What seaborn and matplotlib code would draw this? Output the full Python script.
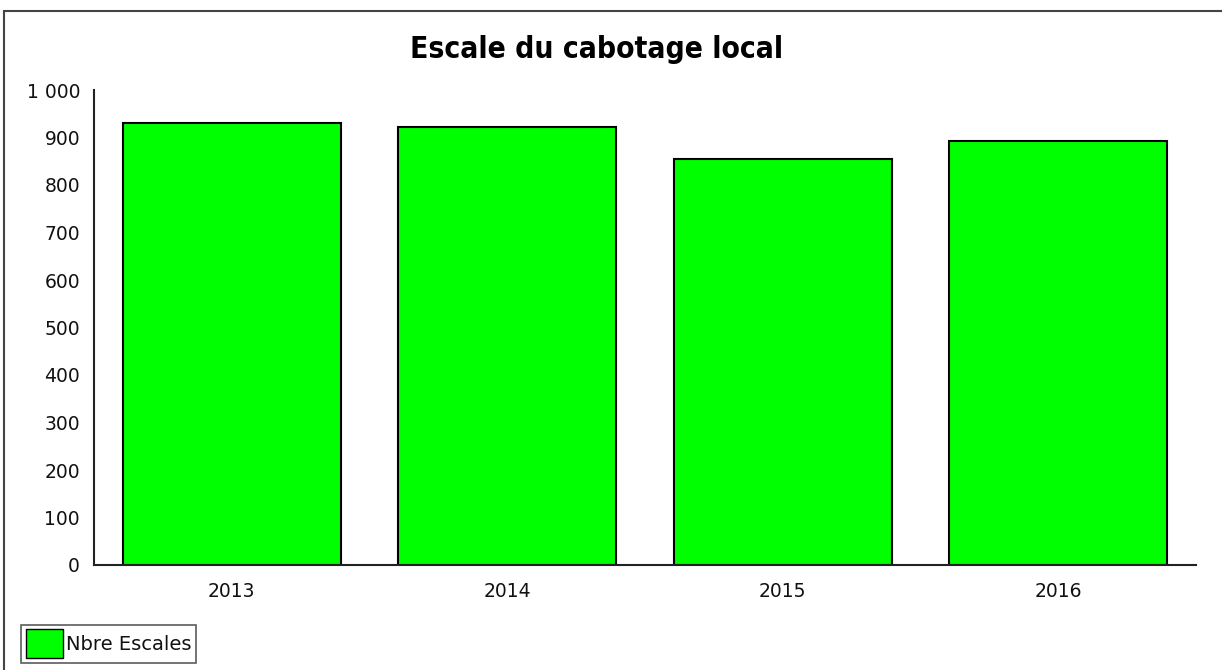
import numpy as np
import matplotlib as mpl
from matplotlib import pyplot as plt
from matplotlib.patches import Rectangle, Patch
import seaborn as sns
import pandas as pd

sns.set_style("white")
plt.rcParams['font.family'] = ['DejaVu Sans']

years = ['2013', '2014', '2015', '2016']
escales = [931, 922, 854, 893]
series_name = 'Nbre Escales'

df = pd.DataFrame({'annee': years, 'escales': escales})

fig = plt.figure(figsize=(12.22, 6.70), dpi=100)
ax = fig.add_axes([94/1222, 1 - 565/670, (1196 - 94)/1222, (565 - 90)/670])

sns.barplot(data=df, x='annee', y='escales', color='#00ff00', saturation=1,
            edgecolor='black', linewidth=1.5, width=0.79, ax=ax)

ax.set_xlim(-0.5, 3.5)
ax.set_ylim(0, 1000)
ax.set_yticks(np.arange(0, 1001, 100))
ax.yaxis.set_major_formatter(mpl.ticker.FuncFormatter(
    lambda v, p: f"{int(v):,}".replace(',', ' ')))
ax.tick_params(axis='both', length=0, labelsize=13.5, colors='#111111')
ax.tick_params(axis='y', pad=10)
ax.tick_params(axis='x', pad=12)
ax.set_xlabel('')
ax.set_ylabel('')
for s in ['top', 'right']:
    ax.spines[s].set_visible(False)
for s in ['left', 'bottom']:
    ax.spines[s].set_color('#222222')
    ax.spines[s].set_linewidth(1.5)

fig.text(597/1222, 1 - 50/670, 'Escale du cabotage local', ha='center', va='center',
         fontsize=21.5, fontweight='bold', fontstretch='condensed', color='black')

# outer frame
fig.patches.append(Rectangle((4/1222, -0.01), 1.1, 1 - 11/670 + 0.01,
                             transform=fig.transFigure, fill=False,
                             edgecolor='#444444', linewidth=1.5))

leg = fig.legend(handles=[Patch(facecolor='#00ff00', edgecolor='black', label=series_name)],
                 loc='lower left', bbox_to_anchor=(21/1222, 1 - 663/670),
                 frameon=True, fancybox=False, fontsize=14, handlelength=1.9,
                 handleheight=1.9, handletextpad=0.15, borderpad=0.25, borderaxespad=0)
leg.get_frame().set_edgecolor('#333333')
leg.get_frame().set_linewidth(1.2)
for t in leg.get_texts():
    t.set_color('#111111')

fig.savefig('out.png', dpi=100)
